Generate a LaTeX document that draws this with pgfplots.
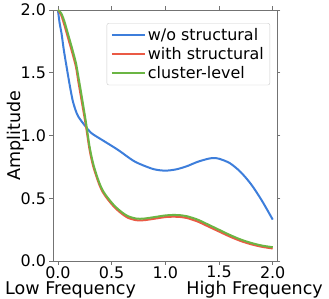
\documentclass[border=0pt]{standalone}
\usepackage{fontspec}
\setmainfont{DejaVu Sans}
\usepackage{pgfplots}
\pgfplotsset{compat=1.18}
\definecolor{cblue}{HTML}{3D7EDB}
\definecolor{cred}{HTML}{EA5A45}
\definecolor{cgreen}{HTML}{6BB544}
\begin{document}
\begin{tikzpicture}
\path[use as bounding box] (-53bp,-38bp) rectangle (276bp,261bp);
\begin{axis}[
  scale only axis, width=224bp, height=251bp,
  at={(0,0)}, anchor=south west,
  xmin=-0.046, xmax=2.04, ymin=0, ymax=2,
  xtick={0,0.5,1,1.5,2}, ytick={0,0.5,1,1.5,2},
  /pgf/number format/.cd, fixed, fixed zerofill, precision=1, assume math mode=true,
  /pgfplots/.cd,
  tick align=outside, major tick length=3.5bp,
  tick style={black!55, line width=0.6bp},
  axis line style={black!55, line width=0.8bp},
  ticklabel style={font=\fontsize{16}{18}\selectfont},
  xticklabel style={inner sep=1.5bp},
  ylabel={Amplitude},
  ylabel style={font=\fontsize{17.6}{21}\selectfont, at={(axis description cs:-0.168,0.5)}, anchor=center},
  legend cell align=left,
  legend style={at={(0.969,0.948)}, anchor=north east,
    draw=black!20, rounded corners=2bp, fill=white,
    font=\fontsize{16}{19}\selectfont, row sep=1.5bp, inner xsep=4bp, inner ysep=3bp},
  legend image code/.code={\draw[#1, line width=2bp] (0bp,0bp) -- (33bp,0bp);},
  every axis plot/.append style={line width=2bp},
]
\addplot[cblue, smooth] coordinates {
(0.00,2.00) (0.015,1.90) (0.034,1.81) (0.055,1.68) (0.08,1.55) (0.11,1.40)
(0.137,1.28) (0.165,1.20) (0.19,1.15) (0.25,1.08) (0.31,1.02) (0.42,0.96)
(0.56,0.885) (0.70,0.80) (0.80,0.76) (0.90,0.73) (1.00,0.72) (1.10,0.73)
(1.20,0.755) (1.30,0.79) (1.40,0.815) (1.45,0.82) (1.50,0.815) (1.60,0.78)
(1.70,0.71) (1.80,0.61) (1.90,0.48) (2.00,0.33)};
\addlegendentry{w/o structural}
\addplot[cred, smooth] coordinates {
(0.00,2.00) (0.03,1.96) (0.06,1.88) (0.10,1.76) (0.13,1.67) (0.167,1.55)
(0.19,1.43) (0.22,1.28) (0.26,1.08) (0.295,0.885) (0.33,0.75) (0.38,0.62)
(0.42,0.545) (0.47,0.485) (0.53,0.425) (0.59,0.38) (0.65,0.345) (0.73,0.325)
(0.80,0.325) (0.90,0.337) (1.00,0.35) (1.08,0.353) (1.15,0.35) (1.20,0.343)
(1.30,0.315) (1.40,0.275) (1.50,0.235) (1.60,0.195) (1.70,0.16) (1.80,0.133)
(1.90,0.113) (2.00,0.10)};
\addlegendentry{with structural}
\addplot[cgreen, smooth] coordinates {
(0.00,2.00) (0.03,1.975) (0.06,1.91) (0.10,1.79) (0.13,1.70) (0.167,1.58)
(0.19,1.47) (0.22,1.32) (0.26,1.11) (0.295,0.91) (0.33,0.77) (0.38,0.635)
(0.42,0.558) (0.47,0.497) (0.53,0.437) (0.59,0.392) (0.65,0.358) (0.73,0.338)
(0.80,0.338) (0.90,0.35) (1.00,0.363) (1.08,0.367) (1.15,0.364) (1.20,0.357)
(1.30,0.33) (1.40,0.29) (1.50,0.249) (1.60,0.208) (1.70,0.172) (1.80,0.144)
(1.90,0.123) (2.00,0.11)};
\addlegendentry{cluster-level}
\end{axis}
\node[anchor=base west, inner sep=0pt, font=\fontsize{17.6}{21}\selectfont] at (-48bp,-33bp) {Low Frequency};
\node[anchor=base east, inner sep=0pt, font=\fontsize{17.6}{21}\selectfont] at (270bp,-33bp) {High Frequency};
\end{tikzpicture}
\end{document}
